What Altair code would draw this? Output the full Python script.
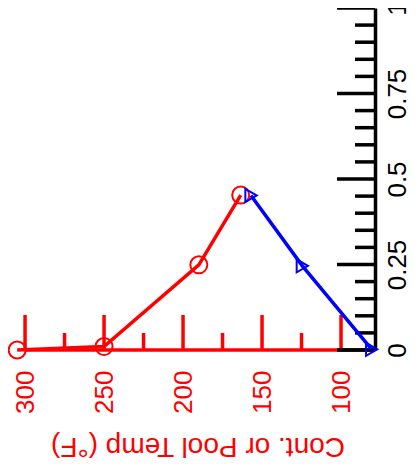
import altair as alt
import pandas as pd

# Data
red_temp = [305, 250, 190, 163.5]
red_val = [0.0, 0.01, 0.249, 0.453]
blue_temp = [157, 124.5, 80.6]
blue_val = [0.452, 0.246, 0.002]

x_major = [300, 250, 200, 150, 100]
x_minor = [275, 225, 175, 125]
y_major = [0, 0.25, 0.5, 0.75, 1]
y_minor = [0.05, 0.1, 0.15, 0.2, 0.3, 0.35, 0.4, 0.45, 0.55, 0.6, 0.65, 0.7,
           0.8, 0.85, 0.9, 0.95]
x_domain = [310.8, 78.5]
y_domain = [0, 1]

W, H = 367, 342
FONT = "Liberation Sans"
LW = 3.5

red_df = pd.DataFrame({"t": red_temp, "v": red_val})
blue_df = pd.DataFrame({"t": blue_temp, "v": blue_val})

xscale = alt.Scale(domain=x_domain, nice=False, zero=False)
yscale = alt.Scale(domain=y_domain, nice=False, zero=False)

xaxis = alt.Axis(values=x_major, ticks=False, domain=False, grid=False,
                 labelAngle=270, labelAlign="right", labelBaseline="middle",
                 labelPadding=20, labelColor="#ff0000", labelFontSize=26,
                 labelFont=FONT, title="Cont. or Pool Temp (°F)",
                 titleColor="#ff0000", titleFontSize=28, titleFont=FONT,
                 titleFontWeight="normal", titleAngle=180, titleAlign="center",
                 titleBaseline="middle", titleX=189.5, titleY=95)
yaxis = alt.Axis(values=y_major, orient="right", ticks=False, grid=False,
                 domain=True, domainColor="black", domainWidth=LW,
                 labelAngle=270, labelAlign="center", labelBaseline="top",
                 labelPadding=9, labelColor="black", labelFontSize=26,
                 labelFont=FONT, labelExpr="toString(datum.value)", title="")


def X(field="t"):
    return alt.X(f"{field}:Q", scale=xscale, axis=xaxis, title="Cont. or Pool Temp (°F)")


def Y(field="v"):
    return alt.Y(f"{field}:Q", scale=yscale, axis=yaxis, title="")


red_axis = alt.Chart(pd.DataFrame({"t": [300], "b": [100], "v": [0]})).mark_rule(
    color="#ff0000", strokeWidth=LW).encode(x=X(), x2="b", y=Y())
black_axis = alt.Chart(pd.DataFrame({"t": [100], "b": [x_domain[1]], "v": [0]})).mark_rule(
    color="black", strokeWidth=LW).encode(x=X(), x2="b", y=Y())

xmaj = alt.Chart(pd.DataFrame({"t": x_major})).mark_rule(
    color="#ff0000", strokeWidth=LW).encode(x=X(), y=alt.value(H - 35), y2=alt.value(H))
xmin = alt.Chart(pd.DataFrame({"t": x_minor})).mark_rule(
    color="#ff0000", strokeWidth=LW).encode(x=X(), y=alt.value(H - 17), y2=alt.value(H))
ymaj = alt.Chart(pd.DataFrame({"v": y_major})).mark_rule(
    color="black", strokeWidth=LW).encode(y=Y(), x=alt.value(W - 38), x2=alt.value(W))
ymin = alt.Chart(pd.DataFrame({"v": y_minor})).mark_rule(
    color="black", strokeWidth=LW).encode(y=Y(), x=alt.value(W - 20), x2=alt.value(W))

red_line = alt.Chart(red_df).mark_line(color="#ff0000", strokeWidth=LW).encode(x=X(), y=Y())
red_pts = alt.Chart(red_df).mark_point(shape="circle", size=289, filled=False,
                                       color="#ff0000", strokeWidth=2, opacity=1).encode(x=X(), y=Y())
blue_line = alt.Chart(blue_df).mark_line(color="#0000ff", strokeWidth=LW).encode(x=X(), y=Y())
blue_pts = alt.Chart(blue_df).mark_point(shape="triangle-right", size=170, filled=False,
                                         color="#0000ff", strokeWidth=2, opacity=1).encode(x=X(), y=Y())

chart = alt.layer(red_axis, black_axis, xmaj, xmin, ymaj, ymin,
                  red_line, red_pts, blue_line, blue_pts).properties(
    width=W, height=H,
    autosize=alt.AutoSizeParams(type="none"),
    padding={"left": 0, "top": 0, "right": 36, "bottom": 112},
    background="white",
).configure_view(stroke=None)

chart.save("out.html", embed_options={"renderer": "svg", "actions": False})
